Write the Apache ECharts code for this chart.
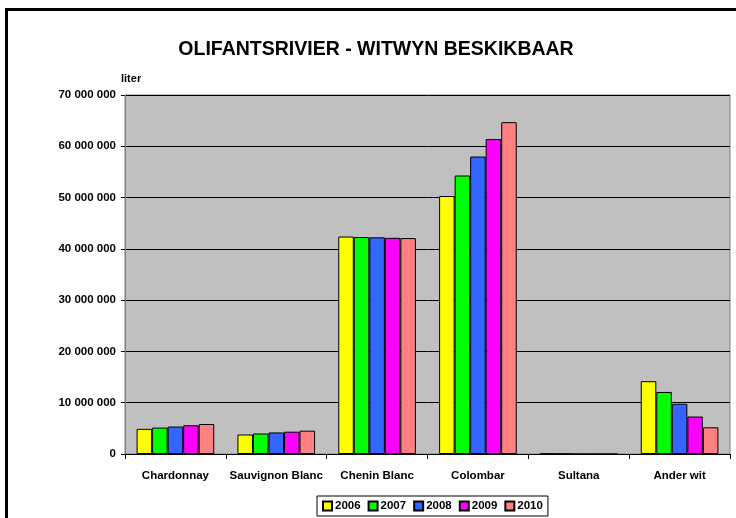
<!DOCTYPE html>
<html>
<head>
<meta charset="utf-8">
<script src="https://cdn.jsdelivr.net/npm/echarts@6/dist/echarts.min.js"></script>
<style>
html, body { margin: 0; padding: 0; background: #fff; }
#chart { width: 736px; height: 518px; }
</style>
</head>
<body>
<div id="chart"></div>
<script>
// kategorieë en jaarwaardes (liter)
var categories = ['Chardonnay', 'Sauvignon Blanc', 'Chenin Blanc', 'Colombar', 'Sultana', 'Ander wit'];
var years = ['2006', '2007', '2008', '2009', '2010'];
var v2006 = [4900000, 3800000, 42400000, 50300000, 80000, 14200000];
var v2007 = [5150000, 4000000, 42300000, 54300000, 50000, 12100000];
var v2008 = [5350000, 4200000, 42250000, 58000000, 0, 9800000];
var v2009 = [5600000, 4350000, 42150000, 61400000, 0, 7300000];
var v2010 = [5850000, 4550000, 42100000, 64700000, 0, 5200000];
var yTicks = [0, 10000000, 20000000, 30000000, 40000000, 50000000, 60000000, 70000000];

var colors = ['#FFFF00', '#00FF00', '#3366FF', '#FF00FF', '#FF8080'];
var values = [v2006, v2007, v2008, v2009, v2010];

var chart = echarts.init(document.getElementById('chart'));

// 70000000 -> "70 000 000"
function fmt(v) {
	return String(v).replace(/\B(?=(\d{3})+(?!\d))/g, ' ');
}

var font = 'Liberation Sans, Arial, sans-serif';

var series = years.map(function (y, i) {
	return {
		name: y,
		type: 'bar',
		data: values[i],
		barGap: '0%',
		barCategoryGap: '23%',
		itemStyle: {
			color: colors[i],
			borderColor: '#000',
			borderWidth: 1
		}
	};
});

chart.setOption({
	animation: false,
	textStyle: { fontFamily: font },
	title: {
		text: 'OLIFANTSRIVIER - WITWYN BESKIKBAAR',
		left: 371,
		textAlign: 'center',
		top: 35,
		textStyle: { fontSize: 19.5, fontWeight: 'bold', color: '#000', fontFamily: font }
	},
	legend: {
		data: years,
		left: 317,
		top: 496,
		itemWidth: 9,
		itemHeight: 9,
		itemGap: 7,
		padding: [4, 5, 4, 5],
		borderColor: '#000',
		borderWidth: 1,
		icon: 'rect',
		textStyle: { fontSize: 11.5, fontWeight: 'bold', color: '#000', padding: [0, 0, 0, -2] }
	},
	grid: {
		left: 125,
		right: 6,
		top: 95,
		bottom: 64,
		show: true,
		backgroundColor: '#C0C0C0',
		borderColor: '#808080',
		borderWidth: 1
	},
	xAxis: {
		type: 'category',
		data: categories,
		axisLine: { lineStyle: { color: '#000', width: 1 } },
		axisTick: { show: true, length: 5, lineStyle: { color: '#000' } },
		axisLabel: { margin: 16, fontSize: 11.5, fontWeight: 'bold', color: '#000', interval: 0 }
	},
	yAxis: {
		type: 'value',
		min: yTicks[0],
		max: yTicks[yTicks.length - 1],
		interval: 10000000,
		name: 'liter',
		nameLocation: 'end',
		nameGap: 11,
		nameTextStyle: { fontSize: 11, fontWeight: 'bold', color: '#000', align: 'left', padding: [0, 0, 0, -4] },
		axisLine: { show: true, lineStyle: { color: '#808080' } },
		axisTick: { show: true, length: 4, lineStyle: { color: '#000' } },
		axisLabel: { margin: 9, fontSize: 11.5, fontWeight: 'bold', color: '#000', formatter: fmt },
		splitLine: { show: true, lineStyle: { color: '#000', width: 1 } }
	},
	graphic: [{
		type: 'rect',
		shape: { x: 6.5, y: 9.5, width: 800, height: 600 },
		style: { fill: 'none', stroke: '#000', lineWidth: 3 },
		silent: true
	}],
	series: series
});
</script>
</body>
</html>
